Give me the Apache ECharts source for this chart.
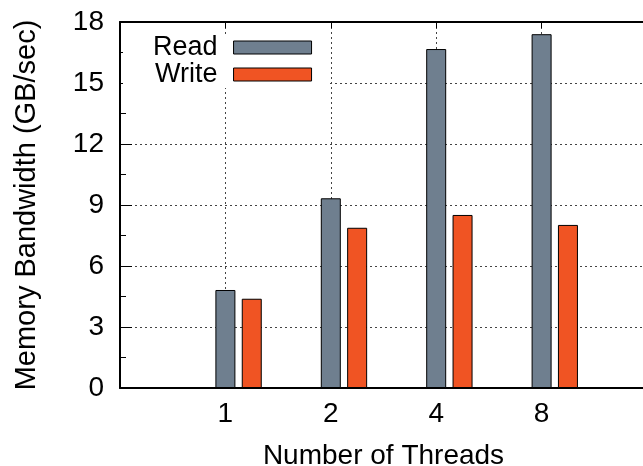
<!DOCTYPE html>
<html>
<head>
<meta charset="utf-8">
<script src="https://cdn.jsdelivr.net/npm/echarts@6/dist/echarts.min.js"></script>
<style>
html,body{margin:0;padding:0;background:#fff;}
#chart{width:643px;height:466px;}
</style>
</head>
<body>
<div id="chart"></div>
<script>
// Data
var threads = ['1', '2', '4', '8'];
var readBW = [4.82, 9.33, 16.67, 17.40];
var writeBW = [4.39, 7.88, 8.51, 8.02];
var yTicks = [0, 3, 6, 9, 12, 15, 18];

var FONT = 'Liberation Sans';
var WRITE_OFFSET = 0.25; // cluster offset within a group (layout)

var readData = threads.map(function (t, i) { return [i + 1, readBW[i]]; });
var writeData = threads.map(function (t, i) { return [i + 1 + WRITE_OFFSET, writeBW[i]]; });

var chart = echarts.init(document.getElementById('chart'), null, {renderer: 'canvas'});
var gridDash = {color: '#444', width: 1, type: [2, 3]};

chart.setOption({
  animation: false,
  backgroundColor: '#fff',
  textStyle: {fontFamily: FONT},
  grid: {left: 120, top: 22, width: 527, height: 366, containLabel: false, outerBoundsMode: 'none'},
  legend: {
    orient: 'vertical',
    left: 123,
    top: 34,
    align: 'right',
    icon: 'rect',
    itemWidth: 78,
    itemHeight: 13,
    itemGap: 0,
    padding: [0, 15, 0, 30],
    backgroundColor: '#fff',
    textStyle: {fontFamily: FONT, fontSize: 27, color: '#000', lineHeight: 27, padding: [0, 11, 0, 0]},
    data: [
      {name: 'Read', itemStyle: {borderColor: '#000', borderWidth: 1}},
      {name: 'Write', itemStyle: {borderColor: '#000', borderWidth: 1}}
    ]
  },
  xAxis: [{
    type: 'value',
    min: 0,
    max: 5,
    interval: 1,
    position: 'bottom',
    name: 'Number of Threads',
    nameLocation: 'middle',
    nameGap: 54,
    nameTextStyle: {fontFamily: FONT, fontSize: 28, color: '#000'},
    axisLine: {show: true, onZero: false, lineStyle: {color: '#000', width: 2}},
    axisTick: {show: false},
    axisLabel: {
      fontFamily: FONT, fontSize: 28, color: '#000', margin: 12,
      showMinLabel: true, showMaxLabel: true,
      formatter: function (v) {
        var k = Math.round(v);
        return (Math.abs(v - k) < 1e-6 && k >= 1 && k <= threads.length) ? threads[k - 1] : '';
      }
    },
    splitLine: {show: true, lineStyle: gridDash}
  }, {
    type: 'value',
    min: 0,
    max: 5,
    interval: 1,
    position: 'top',
    axisLine: {show: true, onZero: false, lineStyle: {color: '#000', width: 2}},
    axisTick: {show: true, inside: true, length: 6, lineStyle: {color: '#000', width: 1}},
    axisLabel: {show: false},
    splitLine: {show: false}
  }],
  yAxis: {
    type: 'value',
    min: yTicks[0],
    max: yTicks[yTicks.length - 1],
    interval: 3,
    name: 'Memory Bandwidth (GB/sec)',
    nameLocation: 'middle',
    nameGap: 79,
    nameTextStyle: {fontFamily: FONT, fontSize: 29, color: '#000'},
    axisLine: {show: true, lineStyle: {color: '#000', width: 2}},
    axisTick: {show: true, inside: true, length: 12, lineStyle: {color: '#000', width: 1}},
    minorTick: {show: true, splitNumber: 2, length: 6, lineStyle: {color: '#000', width: 1}},
    axisLabel: {fontFamily: FONT, fontSize: 28, color: '#000', margin: 16},
    splitLine: {show: true, lineStyle: gridDash}
  },
  series: [{
    name: 'Read',
    type: 'bar',
    data: readData,
    barWidth: 20,
    barGap: '-100%',
    itemStyle: {color: '#6f7f8f', borderColor: '#000', borderWidth: 1}
  }, {
    name: 'Write',
    type: 'bar',
    data: writeData,
    barWidth: 20,
    barGap: '-100%',
    itemStyle: {color: '#f05423', borderColor: '#000', borderWidth: 1}
  }]
});
</script>
</body>
</html>
